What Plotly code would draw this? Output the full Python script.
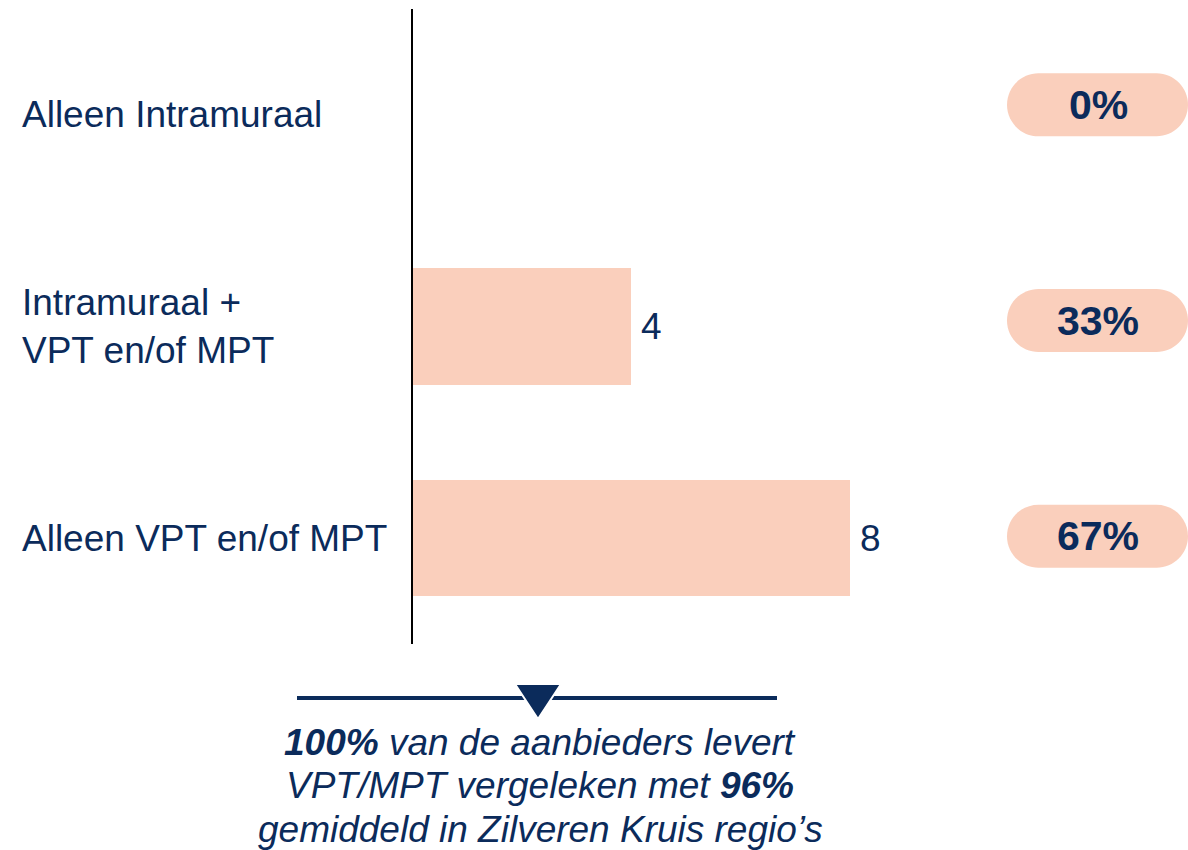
import plotly.graph_objects as go

categories = ["Alleen Intramuraal", "Intramuraal +<br>VPT en/of MPT", "Alleen VPT en/of MPT"]
counts = [0, 4, 8]
pct_labels = ["0%", "33%", "67%"]
footnote_lines = [
    "<b>100%</b> van de aanbieders levert",
    "VPT/MPT vergeleken met <b>96%</b>",
    "gemiddeld in Zilveren Kruis regio’s",
]

NAVY = "#0B2B5B"
PEACH = "#FACFBC"
FONT = "Arial, Liberation Sans, sans-serif"
W, H = 1188, 850
L, R, T, B = 413, 11, 9, 206
PW, PH = W - L - R, H - T - B


def px_x(px):
    return (px - L) / PW


def px_y(py):
    return (H - B - py) / PH


fig = go.Figure()
fig.add_trace(go.Bar(
    x=counts, y=list(range(len(categories))), orientation="h",
    marker=dict(color=PEACH, line=dict(width=0)), width=0.55,
    hoverinfo="skip",
))

annotations = []
shapes = []
for i, (cat, v, p) in enumerate(zip(categories, counts, pct_labels)):
    annotations.append(dict(x=px_x(20), xref="paper", y=i, yref="y", text=cat,
                            xanchor="left", align="left", showarrow=False,
                            font=dict(size=37, color=NAVY, family=FONT)))
    if v > 0:
        annotations.append(dict(x=v, xref="x", y=i, yref="y", text=str(v),
                                xanchor="left", xshift=8, showarrow=False,
                                font=dict(size=37, color=NAVY, family=FONT)))
    off = [10, 6, 2][i]
    shapes.append(dict(
        type="path", xref="paper", yref="y", xsizemode="pixel", ysizemode="pixel",
        xanchor=px_x(1097.5), yanchor=i,
        path=("M -59,{a} L 59,{a} C 76.4,{a} 90.5,{b} 90.5,{c} C 90.5,{d} 76.4,{e} 59,{e} "
              "L -59,{e} C -76.4,{e} -90.5,{d} -90.5,{c} C -90.5,{b} -76.4,{a} -59,{a} Z").format(
            a=31.5 + off, b=17.4 + off, c=off, d=-17.4 + off, e=-31.5 + off),
        fillcolor=PEACH, line=dict(width=0), layer="below"))
    annotations.append(dict(x=px_x(1098), xref="paper", y=i, yref="y", yshift=off,
                            xanchor="center", yanchor="middle",
                            text="<b>" + p + "</b>", showarrow=False,
                            font=dict(size=41, color=NAVY, family=FONT)))

# footnote line and triangle
shapes.append(dict(type="line", xref="paper", yref="paper",
                   x0=px_x(297), x1=px_x(777), y0=px_y(698), y1=px_y(698),
                   line=dict(color=NAVY, width=4)))
shapes.append(dict(type="path", xref="paper", yref="paper",
                   path="M {x0},{y0} L {x1},{y0} L {x2},{y2} Z".format(
                       x0=px_x(515), x1=px_x(561), y0=px_y(684), x2=px_x(538), y2=px_y(719)),
                   fillcolor=NAVY, line=dict(color="white", width=2)))

for j, line in enumerate(footnote_lines):
    annotations.append(dict(x=px_x(540), xref="paper", y=px_y(742 + 43.5 * j), yref="paper",
                            text="<i>" + line + "</i>", showarrow=False,
                            xanchor="center", yanchor="middle",
                            font=dict(size=37, color=NAVY, family=FONT)))

fig.update_layout(
    width=W, height=H,
    margin=dict(l=L, r=R, t=T, b=B),
    paper_bgcolor="white", plot_bgcolor="white",
    showlegend=False,
    bargap=0,
    xaxis=dict(range=[0, PW / 54.6], visible=False, fixedrange=True),
    yaxis=dict(range=[2.5, -0.5], showticklabels=False, ticks="", showgrid=False,
               zeroline=False, showline=True, linecolor="black", linewidth=2,
               fixedrange=True),
    shapes=shapes, annotations=annotations,
)
fig.write_html("out.html", config={"displayModeBar": False},
               post_script="document.body.style.margin='0';document.body.style.overflow='hidden';")
